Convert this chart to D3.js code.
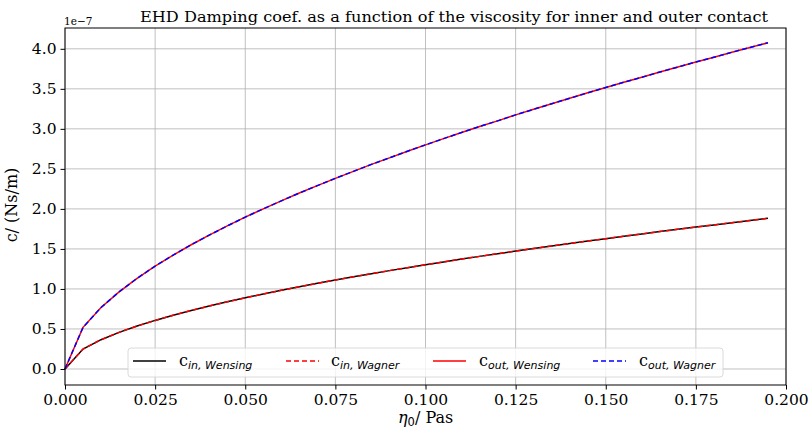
<!DOCTYPE html>
<html><head><meta charset="utf-8">
<script src="https://cdn.jsdelivr.net/npm/d3@7"></script>
<style>body{margin:0;background:#fff}svg{display:block}</style>
</head><body>
<svg id="c" width="809" height="432"></svg>
<script>
const eta = [0,0.005,0.01,0.015,0.02,0.025,0.03,0.035,0.04,0.045,0.05,0.055,0.06,0.065,0.07,0.075,0.08,0.085,0.09,0.095,0.1,0.105,0.11,0.115,0.12,0.125,0.13,0.135,0.14,0.145,0.15,0.155,0.16,0.165,0.17,0.175,0.18,0.185,0.19,0.195];
const cIn = [0,0.25,0.366,0.458,0.537,0.607,0.671,0.730,0.786,0.839,0.889,0.937,0.983,1.027,1.070,1.112,1.151,1.191,1.229,1.266,1.302,1.338,1.373,1.407,1.440,1.473,1.505,1.537,1.568,1.599,1.628,1.659,1.687,1.717,1.745,1.773,1.800,1.828,1.855,1.882];
const cOut = [0,0.52,0.768,0.964,1.133,1.285,1.423,1.552,1.672,1.787,1.897,2.001,2.101,2.198,2.291,2.382,2.469,2.556,2.638,2.721,2.800,2.878,2.954,3.029,3.100,3.175,3.244,3.314,3.382,3.450,3.516,3.582,3.644,3.710,3.772,3.836,3.894,3.957,4.016,4.075];
const xTicks = [0,0.025,0.05,0.075,0.1,0.125,0.15,0.175,0.2];
const yTicks = [0,0.5,1,1.5,2,2.5,3,3.5,4];
const series = [
  {sub:"in, Wensing", data:cIn, color:"#000", dash:null},
  {sub:"in, Wagner", data:cIn, color:"#ff0000", dash:"5,3"},
  {sub:"out, Wensing", data:cOut, color:"#ff0000", dash:null},
  {sub:"out, Wagner", data:cOut, color:"#0000ff", dash:"5,3"}
];
const svg = d3.select("#c");
const L=65,R=786,T=28,B=385;
const x = d3.scaleLinear().domain([0,0.2]).range([L,R]);
const y = d3.scaleLinear().domain([-0.2,4.26]).range([B,T]);
const serif = "DejaVu Serif, serif";
// grid
const g = svg.append("g");
g.selectAll(".gx").data(xTicks).enter().append("line")
 .attr("x1",d=>x(d)).attr("x2",d=>x(d)).attr("y1",T).attr("y2",B)
 .attr("stroke","#b0b0b0").attr("stroke-width",0.8);
g.selectAll(".gy").data(yTicks).enter().append("line")
 .attr("x1",L).attr("x2",R).attr("y1",d=>y(d)).attr("y2",d=>y(d))
 .attr("stroke","#b0b0b0").attr("stroke-width",0.8);
// lines
const line = d3.line().x((d,i)=>x(eta[i])).y(d=>y(d));
series.forEach(s=>{
  svg.append("path").attr("d",line(s.data)).attr("fill","none")
   .attr("stroke",s.color).attr("stroke-width",1.5)
   .attr("stroke-dasharray",s.dash);
});
// axes
const xa = svg.append("g").attr("transform",`translate(0,${B})`)
 .call(d3.axisBottom(x).tickValues(xTicks).tickFormat(d3.format(".3f")).tickSize(4.5).tickPadding(4));
const ya = svg.append("g").attr("transform",`translate(${L},0)`)
 .call(d3.axisLeft(y).tickValues(yTicks).tickFormat(d3.format(".1f")).tickSize(4.5).tickPadding(4));
[xa,ya].forEach(a=>{a.select(".domain").remove();
  a.selectAll("text").attr("font-family",serif).attr("font-size",15.5).attr("fill","#000");
  a.selectAll("line").attr("stroke","#000");});
svg.append("rect").attr("x",L).attr("y",T).attr("width",R-L).attr("height",B-T)
 .attr("fill","none").attr("stroke","#000").attr("stroke-width",1);
// labels
svg.append("text").attr("x",140).attr("y",22)
 .attr("font-family",serif).attr("font-size",15.5).attr("textLength",628).attr("lengthAdjust","spacingAndGlyphs")
 .text("EHD Damping coef. as a function of the viscosity for inner and outer contact");
svg.append("text").attr("x",64).attr("y",25).attr("font-family",serif).attr("font-size",10.5).text("1e\u22127");
svg.append("text").attr("transform","translate(17,205) rotate(-90)").attr("text-anchor","middle")
 .attr("font-family",serif).attr("font-size",16).text("c/ (Ns/m)");
const xl = svg.append("text").attr("x",398).attr("y",423)
 .attr("font-family",serif).attr("font-size",16);
xl.append("tspan").attr("font-style","italic").text("η");
xl.append("tspan").attr("font-family","DejaVu Sans, sans-serif").attr("font-size",11.5).attr("dy",3).text("0");
xl.append("tspan").attr("dy",-3).text("/ Pas");
// legend
const lg = svg.append("g");
lg.append("rect").attr("x",128).attr("y",348).attr("width",595).attr("height",29).attr("rx",3)
 .attr("fill","#fff").attr("fill-opacity",0.8).attr("stroke","#d0d0d0").attr("stroke-width",0.8);
const lx=[133,286,433,593], tx=[179,331,479,639];
series.forEach((s,i)=>{
  lg.append("line").attr("x1",lx[i]).attr("x2",lx[i]+33).attr("y1",361).attr("y2",361)
   .attr("stroke",s.color).attr("stroke-width",1.5).attr("stroke-dasharray",s.dash);
  const t = lg.append("text").attr("x",tx[i]).attr("y",366).attr("font-family",serif).attr("font-size",16);
  t.append("tspan").text("c");
  t.append("tspan").attr("font-family","DejaVu Sans, sans-serif").attr("font-style","italic")
   .attr("font-size",11).attr("dy",3).text(s.sub);
});
</script>
</body></html>
